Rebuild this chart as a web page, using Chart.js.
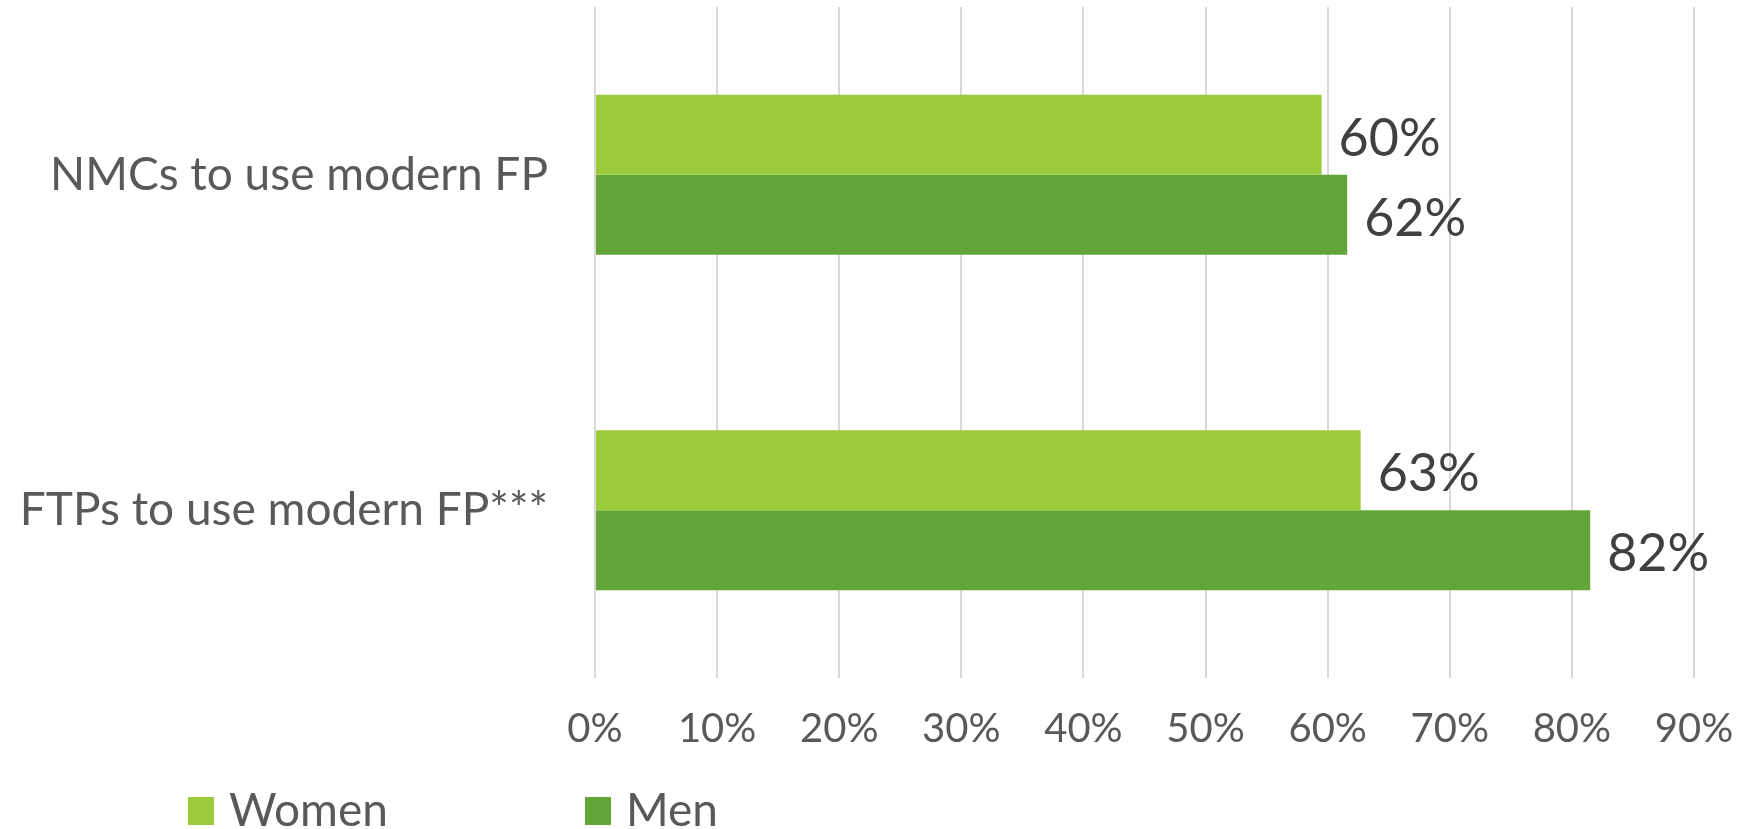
<!DOCTYPE html>
<html>
<head>
<meta charset="utf-8">
<script src="https://cdn.jsdelivr.net/npm/chart.js@4/dist/chart.umd.min.js"></script>
<style>
  html, body { margin: 0; padding: 0; background: #fff; }
</style>
</head>
<body>
<canvas id="chart" width="1755" height="829"></canvas>
<script>
const categories = ['NMCs to use modern FP', 'FTPs to use modern FP***'];
const seriesNames = ['Women', 'Men'];
const womenValues = [59.5, 62.7];
const menValues = [61.6, 81.5];
const tickValues = [0, 10, 20, 30, 40, 50, 60, 70, 80, 90];

const FONT = 'Lato, "Open Sans", sans-serif';
const colors = ['#9BCB3B', '#63A538'];

// value labels at the end of each bar
const barLabels = {
  id: 'barLabels',
  afterDatasetsDraw(chart) {
    const { ctx } = chart;
    ctx.save();
    ctx.font = `52px ${FONT}`;
    ctx.fillStyle = '#404040';
    ctx.textAlign = 'left';
    ctx.textBaseline = 'middle';
    chart.data.datasets.forEach((ds, i) => {
      chart.getDatasetMeta(i).data.forEach((bar, j) => {
        ctx.fillText(`${Math.round(ds.data[j])}%`, bar.x + 17, bar.y + 4);
      });
    });
    ctx.restore();
  },
};

// legend at the bottom left, like the original
const bottomLegend = {
  id: 'bottomLegend',
  afterDraw(chart) {
    const { ctx } = chart;
    const startX = 188;
    const colWidth = 397;
    ctx.save();
    ctx.font = `46px ${FONT}`;
    ctx.textBaseline = 'alphabetic';
    ctx.textAlign = 'left';
    chart.data.datasets.forEach((ds, i) => {
      const x = startX + i * colWidth;
      ctx.fillStyle = ds.backgroundColor;
      ctx.fillRect(x, 797, 26, 28);
      ctx.fillStyle = '#595959';
      ctx.fillText(ds.label, x + 41, 826);
    });
    ctx.restore();
  },
};

const ctx = document.getElementById('chart');

// eslint-disable-next-line no-undef, no-new
new Chart(ctx, {
  type: 'bar',
  data: {
    labels: categories,
    datasets: [
      {
        label: seriesNames[0],
        data: womenValues,
        backgroundColor: colors[0],
        borderWidth: 0,
        barPercentage: 1,
        categoryPercentage: 0.477,
      },
      {
        label: seriesNames[1],
        data: menValues,
        backgroundColor: colors[1],
        borderWidth: 0,
        barPercentage: 1,
        categoryPercentage: 0.477,
      },
    ],
  },
  options: {
    indexAxis: 'y',
    responsive: false,
    animation: false,
    devicePixelRatio: 1,
    layout: {
      padding: { left: 0, right: 61, top: 7, bottom: 0 },
    },
    plugins: {
      legend: { display: false },
      tooltip: { enabled: false },
    },
    scales: {
      x: {
        min: 0,
        max: 90,
        afterBuildTicks(scale) {
          scale.ticks = tickValues.map((v) => ({ value: v }));
        },
        afterFit(scale) {
          scale.height = 151;
          scale.paddingLeft = 0;
          scale.paddingRight = 0;
        },
        ticks: {
          color: '#595959',
          font: { family: FONT, size: 40 },
          padding: 27,
          callback: (v) => `${v}%`,
        },
        grid: {
          color: '#D9D9D9',
          lineWidth: 2,
          drawTicks: false,
        },
        border: { display: false },
      },
      y: {
        afterFit(scale) {
          scale.width = 595;
          // labels sit inside the category bands, no extra room needed
          scale.paddingTop = 0;
          scale.paddingBottom = 0;
        },
        ticks: {
          color: '#595959',
          font: { family: FONT, size: 46 },
          padding: 47,
        },
        grid: { display: false, drawTicks: false },
        border: { display: false },
      },
    },
  },
  plugins: [barLabels, bottomLegend],
});
</script>
</body>
</html>
